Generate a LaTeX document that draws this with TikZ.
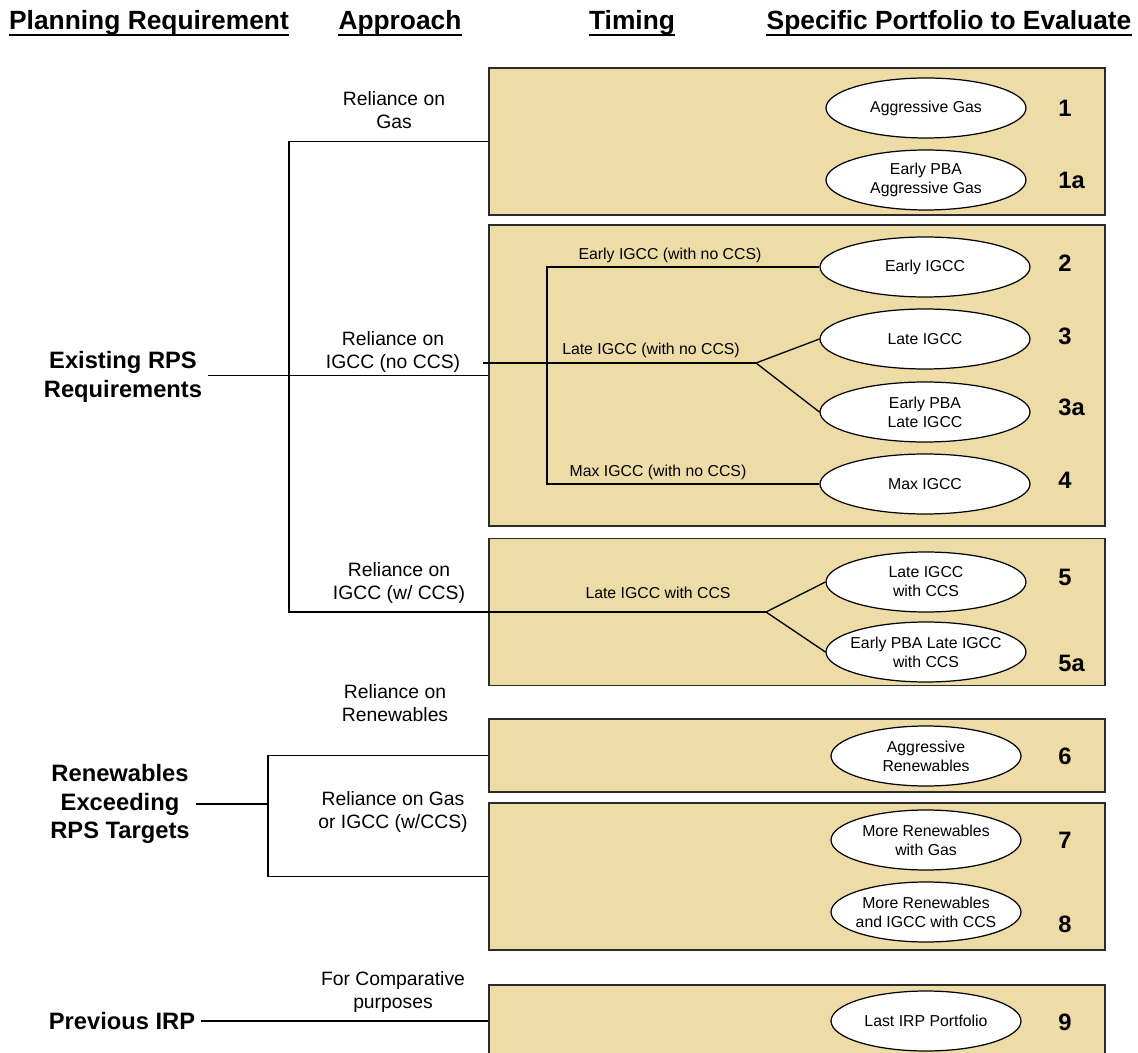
\documentclass[tikz,border=0pt]{standalone}
\usepackage{fontspec}
\setmainfont{Liberation Sans}
\usetikzlibrary{shapes.geometric}
\definecolor{tancol}{HTML}{EEDCA6}
\definecolor{edgecol}{HTML}{2B2B2B}

\begin{document}
\begin{tikzpicture}[
  x=0.02cm, y=-0.02cm,
  font=\fontsize{9}{10.8}\selectfont,
  band/.style={
    draw=edgecol, fill=tancol, line width=1.1pt,
    minimum width=12.32cm, minimum height=#1, inner sep=0pt,
  },
  port/.style={
    ellipse, draw=black, fill=white, line width=0.7pt,
    minimum width=#1, minimum height=1.2cm,
    inner xsep=-0.5cm, inner ysep=0pt, align=center,
  },
  port/.default=4cm,
  tag/.style={font=\bfseries\fontsize{13.5}{16}\selectfont, anchor=west, inner sep=0pt},
  req/.style={font=\bfseries\fontsize{13.5}{16.2}\selectfont, align=center},
  way/.style={font=\fontsize{11}{13}\selectfont, align=center},
  hdr/.style={font=\bfseries\fontsize{15}{18}\selectfont, anchor=base, inner sep=0pt},
  link/.style={line width=0.75pt, draw=black},
]
\useasboundingbox (0,0) rectangle (1138,1053);
\clip (0,0) rectangle (1138,1053);

% =================== column headers ===================
\node[hdr] (hplan) at (149,29.5) {Planning Requirement};
\node[hdr] (happr) at (400,29.5) {Approach};
\node[hdr] (htime) at (632,29.5) {Timing};
\node[hdr] (hspec) at (949,29.5) {Specific Portfolio to Evaluate};
\foreach \h in {hplan,happr,htime,hspec}
  \draw[line width=1.6pt] ([yshift=-3.1pt]\h.base west) -- ([yshift=-3.1pt]\h.base east);

% =================== portfolio bands ===================
\node[band=2.94cm] (band1) at (797,141.5) {};
\node[band=6.02cm] (band2) at (797,375.5) {};
\node[band=2.94cm] (band3) at (797,612) {};
\node[band=1.46cm] (band4) at (797,755.5) {};
\node[band=2.94cm] (band5) at (797,876.5) {};
\node[band=1.44cm] (band6) at (797,1021) {};

% =================== portfolios ===================
\node[port] (p1) at (926,108) {Aggressive Gas};
\node[port] (p1a) at (926,180) {Early PBA\\Aggressive Gas};
\node[port=4.2cm] (p2) at (925,267) {Early IGCC};
\node[port=4.2cm] (p3) at (925,339) {Late IGCC};
\node[port=4.2cm] (p3a) at (925,412) {Early PBA\\Late IGCC};
\node[port=4.2cm] (p4) at (925,484) {Max IGCC};
\node[port] (p5) at (926,582) {Late IGCC\\with CCS};
\node[port] (p5a) at (926,652) {Early PBA Late IGCC\\with CCS};
\node[port=3.8cm] (p6) at (926,756) {Aggressive\\Renewables};
\node[port=3.8cm] (p7) at (926,840) {More Renewables\\with Gas};
\node[port=3.8cm] (p8) at (926,912) {More Renewables\\and IGCC with CCS};
\node[port=3.8cm] (p9) at (926,1021) {Last IRP Portfolio};

% portfolio numbers
\node[tag] (n1) at (1058,108) {1};
\node[tag] (n1a) at (1058,180) {1a};
\node[tag] (n2) at (1058,263) {2};
\node[tag] (n3) at (1058,336) {3};
\node[tag] (n3a) at (1058,407) {3a};
\node[tag] (n4) at (1058,480) {4};
\node[tag] (n5) at (1058,577) {5};
\node[tag] (n5a) at (1058,663) {5a};
\node[tag] (n6) at (1058,756) {6};
\node[tag] (n7) at (1058,840) {7};
\node[tag] (n8) at (1058,924) {8};
\node[tag] (n9) at (1058,1022) {9};

% =================== requirements and approaches ===================
\node[req] (exist) at (123,377) {Existing RPS\\Requirements};
\node[req] (renew) at (120,804) {Renewables\\Exceeding\\RPS Targets};
\node[req] (prev) at (122,1021) {Previous IRP};

\node[way] (wgas) at (394,110) {Reliance on\\Gas};
\node[way] (wnoccs) at (393,352) {Reliance on\\IGCC (no CCS)};
\node[way] (wccs) at (399,583) {Reliance on\\IGCC (w/ CCS)};
\node[way] (wren) at (395,703) {Reliance on\\Renewables};
\node[way] (wmix) at (393,812) {Reliance on Gas\\or IGCC (w/CCS)};
\node[way] (wcmp) at (393,992) {For Comparative\\purposes};

% timing labels
\node (tearly) at (670,255) {Early IGCC (with no CCS)};
\node (tlate) at (651,350) {Late IGCC (with no CCS)};
\node (tmax) at (658,472) {Max IGCC (with no CCS)};
\node (tccs) at (658,593) {Late IGCC with CCS};

% =================== connectors ===================
\coordinate (trunkA) at (289,0);
\coordinate (trunkB) at (268,0);
\coordinate (spine) at (547,0);
\coordinate (stubB) at (483,363);
\coordinate (forkB) at (756,363);
\coordinate (forkC) at (766,612);

% existing RPS
\draw[link] (exist.east |- band2.west) -- (band2.west);
\draw[link] (band1.west) -- (band1.west -| trunkA) -- (band3.west -| trunkA) -- (forkC);
\draw[link] (p5.west) -- (forkC) -- (p5a.west);
\draw[link] (stubB) -- (forkB);
\draw[link] (p3.west) -- (forkB) -- (p3a.west);
\draw[link] (p2.west) -- (p2.west -| spine) -- (p4.west -| spine) -- (p4.west);

% renewables
\draw[link] (renew.east) -- (renew.east -| trunkB);
\draw[link] (band4.west) -- (band4.west -| trunkB) -- (band5.west -| trunkB) -- (band5.west);

% previous IRP
\draw[link] (prev.east) -- (band6.west);

\end{tikzpicture}
\end{document}
